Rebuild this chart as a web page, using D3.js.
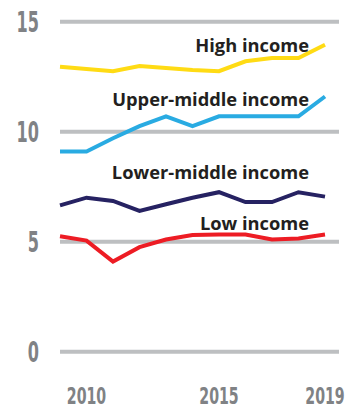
<!DOCTYPE html>
<html>
<head>
<meta charset="utf-8">
<script src="https://cdn.jsdelivr.net/npm/d3@7"></script>
<style>
  html, body { margin: 0; padding: 0; background: #ffffff; }
  svg { display: block; }
</style>
</head>
<body>
<div id="chart"></div>
<script>
// Years on the x axis
const years = [2009, 2010, 2011, 2012, 2013, 2014, 2015, 2016, 2017, 2018, 2019];

// Series values by income group
const highIncome        = [12.95, 12.85, 12.75, 12.99, 12.9, 12.8, 12.75, 13.2, 13.35, 13.35, 13.95];
const upperMiddleIncome = [9.1, 9.1, 9.7, 10.25, 10.7, 10.25, 10.7, 10.7, 10.7, 10.7, 11.6];
const lowerMiddleIncome = [6.65, 7.0, 6.85, 6.4, 6.7, 7.0, 7.25, 6.8, 6.8, 7.25, 7.05];
const lowIncome         = [5.25, 5.05, 4.1, 4.75, 5.1, 5.3, 5.33, 5.33, 5.1, 5.15, 5.33];

const seriesNames = ["High income", "Upper-middle income", "Lower-middle income", "Low income"];

// Axis ticks
const yTicks = [0, 5, 10, 15];
const xTicks = [2010, 2015, 2019];

const width = 355, height = 408;

const series = [
  { name: seriesNames[0], values: highIncome,        color: "#ffdb14", labelY: 52 },
  { name: seriesNames[1], values: upperMiddleIncome, color: "#29abe2", labelY: 105.5 },
  { name: seriesNames[2], values: lowerMiddleIncome, color: "#262262", labelY: 179 },
  { name: seriesNames[3], values: lowIncome,         color: "#ed1c24", labelY: 229.5 }
];

const svg = d3.select("#chart").append("svg")
  .attr("width", width)
  .attr("height", height);

const x = d3.scaleLinear().domain([2009, 2019]).range([60, 325]);
const y = d3.scaleLinear().domain([0, 15]).range([351.7, 21.7]);

// Horizontal gridlines
svg.append("g")
  .selectAll("line")
  .data(yTicks)
  .join("line")
  .attr("x1", 60)
  .attr("x2", 339)
  .attr("y1", d => y(d))
  .attr("y2", d => y(d))
  .attr("stroke", "#bdbfc1")
  .attr("stroke-width", 4);

const condensed = "'Liberation Sans Narrow', 'DejaVu Sans Condensed', 'Roboto', sans-serif";

// Squeeze a tick label horizontally so each digit takes `digitW` pixels
function squeeze(sel, digitW, px, py) {
  sel.each(function (d) {
    const t = d3.select(this);
    const natural = this.getComputedTextLength();
    const sx = natural > 0 ? (String(d).length * digitW) / natural : 1;
    t.attr("transform", `translate(${px(d)},${py(d)}) scale(${sx},1)`);
  });
}

// Y tick labels
svg.append("g")
  .selectAll("text")
  .data(yTicks)
  .join("text")
  .attr("text-anchor", "end")
  .attr("font-family", condensed)
  .attr("font-weight", "bold")
  .attr("font-size", 28)
  .attr("fill", "#808285")
  .text(d => d)
  .call(squeeze, 11.2, () => 39, d => y(d) + 10.5);

// X tick labels
svg.append("g")
  .selectAll("text")
  .data(xTicks)
  .join("text")
  .attr("text-anchor", "middle")
  .attr("font-family", condensed)
  .attr("font-weight", "bold")
  .attr("font-size", 23)
  .attr("fill", "#808285")
  .text(d => d)
  .call(squeeze, 9.85, d => x(d), () => 403.5);

// Series lines
const line = d3.line()
  .x((d, i) => x(years[i]))
  .y(d => y(d));

svg.append("g")
  .selectAll("path")
  .data(series)
  .join("path")
  .attr("d", d => line(d.values))
  .attr("fill", "none")
  .attr("stroke", d => d.color)
  .attr("stroke-width", 4)
  .attr("stroke-linejoin", "miter");

// Series labels
svg.append("g")
  .selectAll("text")
  .data(series)
  .join("text")
  .attr("x", 309)
  .attr("y", d => d.labelY)
  .attr("text-anchor", "end")
  .attr("font-family", "'Open Sans', sans-serif")
  .attr("font-weight", "bold")
  .attr("font-size", 18.3)
  .attr("fill", "#231f20")
  .text(d => d.name);
</script>
</body>
</html>
